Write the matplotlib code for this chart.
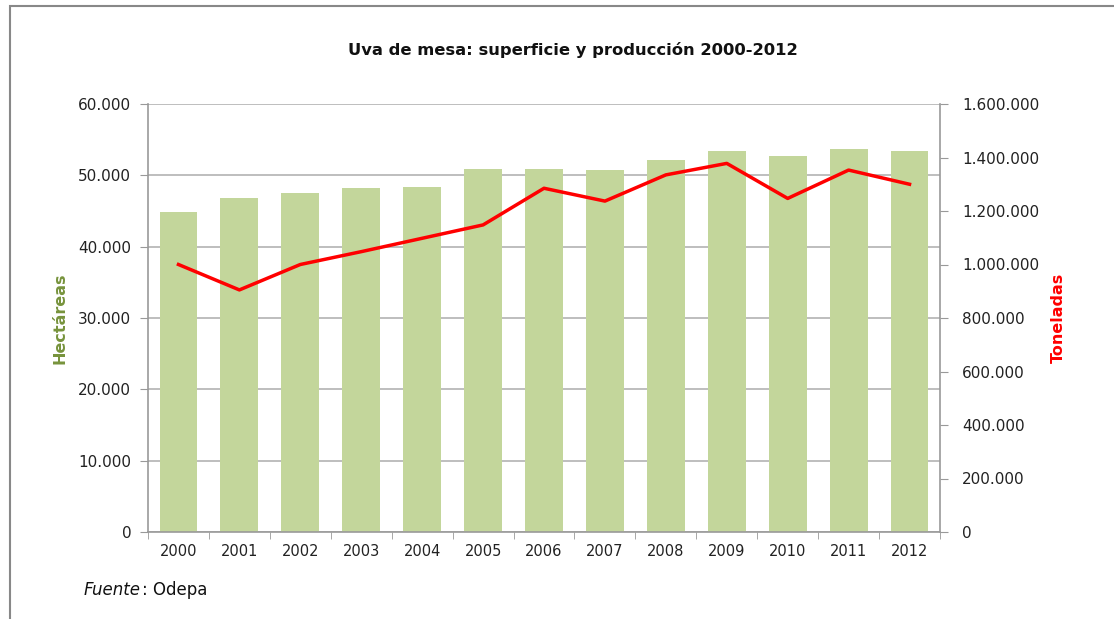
import matplotlib
matplotlib.use("Agg")
import matplotlib.pyplot as plt
from matplotlib.ticker import FuncFormatter
from matplotlib.patches import Rectangle

years = ["2000", "2001", "2002", "2003", "2004", "2005", "2006",
         "2007", "2008", "2009", "2010", "2011", "2012"]
hectareas = [44900, 46800, 47500, 48200, 48400, 50900, 50900,
             50700, 52150, 53400, 52700, 53750, 53450]
toneladas = [1000000, 905000, 1000000, 1048000, 1098000, 1148000, 1285000,
             1237000, 1335000, 1378000, 1247000, 1353000, 1300000]
left_ticks = [0, 10000, 20000, 30000, 40000, 50000, 60000]
right_ticks = [0, 200000, 400000, 600000, 800000, 1000000, 1200000, 1400000, 1600000]

plt.rcParams['font.family'] = ['DejaVu Sans']

def fmt(v, pos=None):
    return f"{int(v):,}".replace(",", ".")

fig = plt.figure(figsize=(11.14, 6.19), dpi=100)
ax = fig.add_axes([148/1114, 1-532/619, (940-148)/1114, (532-104)/619])
x = list(range(len(years)))

ax.bar(x, hectareas, width=0.62, color="#c3d69b", zorder=2)
ax.set_ylim(0, 60000)
ax.set_xlim(-0.5, len(years)-0.5)
ax.set_yticks(left_ticks)
ax.yaxis.set_major_formatter(FuncFormatter(fmt))
ax.grid(axis="y", color="#b3b3b3", linewidth=1.2, zorder=0)
ax.set_axisbelow(True)
ax.set_xticks(x)
ax.set_xticklabels(years)
ax.set_xticks([i + 0.5 for i in range(-1, len(years))], minor=True)
ax.tick_params(axis="x", which="major", length=0, pad=9, labelsize=10.5, labelcolor="#222222")
ax.tick_params(axis="x", which="minor", length=5, color="#999999", direction="out")
ax.tick_params(axis="y", length=6, color="#999999", labelsize=11, labelcolor="#222222", pad=6)
for s in ["top", "right"]:
    ax.spines[s].set_visible(False)
for s in ["left", "bottom"]:
    ax.spines[s].set_color("#999999")
    ax.spines[s].set_linewidth(1.2)

ax2 = ax.twinx()
ax2.plot(x, toneladas, color="#ff0000", linewidth=2.5, zorder=3)
ax2.set_ylim(0, 1600000)
ax2.set_yticks(right_ticks)
ax2.yaxis.set_major_formatter(FuncFormatter(fmt))
ax2.tick_params(axis="y", length=6, color="#999999", labelsize=11, labelcolor="#222222", pad=10)
for s in ["top", "left", "bottom"]:
    ax2.spines[s].set_visible(False)
ax2.spines["right"].set_color("#999999")
ax2.spines["right"].set_linewidth(1.2)

fig.text(573/1114, 1-50/619, "Uva de mesa: superficie y producción 2000-2012",
         ha="center", va="center", fontsize=11.75, fontweight="bold", color="#111111")
fig.text(60/1114, 1-318/619, "Hectáreas", rotation=90, ha="center", va="center",
         fontsize=11.5, fontweight="bold", color="#77933c")
fig.text(1058/1114, 1-318/619, "Toneladas", rotation=90, ha="center", va="center",
         fontsize=11.5, fontweight="bold", color="#ff0000")
t1 = fig.text(84/1114, 1-590/619, "Fuente", style="italic", ha="left", va="center",
              fontsize=12, color="#111111")
renderer = fig.canvas.get_renderer()
bb = t1.get_window_extent(renderer=renderer)
fig.text(bb.x1/1114 + 1/1114, 1-590/619, ": Odepa", ha="left", va="center",
         fontsize=12, color="#111111")

fig.patches.append(Rectangle((10/1114, -0.05), 1.2, 1-6/619+0.05, transform=fig.transFigure,
                             fill=False, edgecolor="#888888", linewidth=1.5))

fig.savefig("out.png", dpi=100)
